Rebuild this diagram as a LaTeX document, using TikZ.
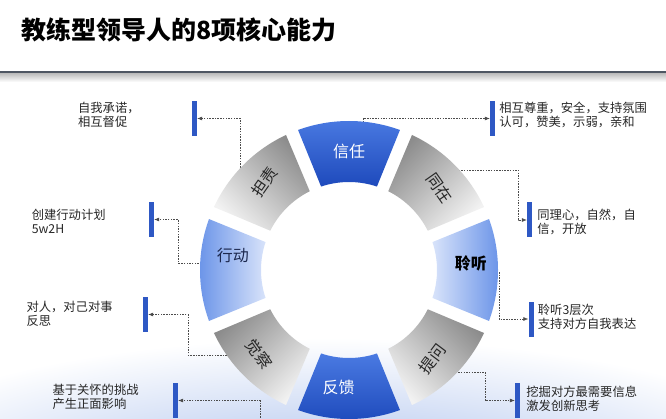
\documentclass[tikz,border=0pt]{standalone}
\usepackage{fontspec}
\setmainfont{Noto Sans CJK SC}
\usetikzlibrary{positioning}
\usetikzlibrary{arrows.meta}
\definecolor{ringblue}{RGB}{30,74,188}
\definecolor{ringbluetop}{RGB}{74,122,226}
\definecolor{ltblue}{RGB}{104,146,232}
\definecolor{paleblue}{RGB}{216,227,250}
\definecolor{barblue}{RGB}{46,88,196}
\definecolor{glowblue}{RGB}{158,183,234}
\definecolor{rulegray}{RGB}{78,86,98}
\definecolor{labelnavy}{RGB}{28,40,78}

\begin{document}
\begin{tikzpicture}[x=1pt,y=1pt,
  blueseg/.style={top color=ringbluetop,bottom color=ringblue},
  ltL/.style={top color=ltblue,bottom color=paleblue,shading angle=90},
  ltR/.style={top color=ltblue,bottom color=paleblue,shading angle=-90},
  grayA/.style={top color=black!45,bottom color=black!5,shading angle=-45},
  grayB/.style={top color=black!45,bottom color=black!5,shading angle=45},
  lbl/.style={font=\fontsize{16}{16}\selectfont,text=black!85},
  bar/.style={rectangle,fill=barblue,minimum width=5pt,minimum height=35pt,inner sep=0pt},
  note/.style={align=left,inner sep=0pt,font=\fontsize{12.3}{14}\selectfont,text=black!85},
  arr/.style={-{Latex[length=5pt,width=4pt]},dash pattern=on 1.5pt off 1.2pt,color=black!70,line width=0.6pt}
]
  \useasboundingbox (0,0) rectangle (666,418);
  \shade[inner color=glowblue,outer color=white] (333,-80) ellipse [x radius=520,y radius=160];
  \fill[top color=black!30,bottom color=white] (0,336) rectangle (666,346);
  \draw[rulegray,line width=2pt] (0,346) -- (666,346);
  \node[anchor=west,inner sep=0pt,font=\fontsize{25}{30}\selectfont\bfseries] (T) at (21,388)
    {教练型领导人的8项核心能力};

  \node[bar] (DZb) at (194.5,299.5) {};
  \node[bar] (XDb) at (151.5,198.5) {};
  \node[bar] (JCb) at (145.5,103.5) {};
  \node[bar] (FKb) at (175.5,17.5) {};
  \node[bar] (XRb) at (492.5,299.5) {};
  \node[bar] (TZb) at (529.5,198) {};
  \node[bar] (LTb) at (531,99) {};
  \node[bar] (TWb) at (517.5,17.5) {};

  \node[note,below left=1pt and 52pt of DZb.north west] (DZn) {自我承诺，\\相互督促};
  \node[note,below left=7pt and 43pt of XDb.north west] (XDn) {创建行动计划\\5w2H};
  \node[note,below left=4pt and 30pt of JCb.north west] (JCn) {对人，对己对事\\反思};
  \node[note,below left=1pt and 34pt of FKb.north west] (FKn) {基于关怀的挑战\\产生正面影响};
  \node[note,below right=1pt and 4pt of XRb.north east] (XRn) {相互尊重，安全，支持氛围\\认可，赞美，示弱，亲和};
  \node[note,below right=7pt and 5pt of TZb.north east] (TZn) {同理心，自然，自\\信，开放};
  \node[note,below right=3pt and 4pt of LTb.north east] (LTn) {聆听3层次\\支持对方自我表达};
  \node[note,below right=3pt and 6pt of TWb.north east] (TWn) {挖掘对方最需要信息\\激发创新思考};

  \coordinate (C) at (349,148);
  \coordinate (dz) at (240,245);
  \coordinate (xd) at (215,155);
  \coordinate (jc) at (235,63);
  \coordinate (fk) at (260,-5);
  \coordinate (xr) at (363,290);
  \coordinate (tz) at (445,248);
  \coordinate (lt) at (499,146);
  \coordinate (tw) at (450,46);
  \draw[arr] (dz) |- (DZb.east);
  \draw[arr] (xd) -- ++(-37,0) |- (XDb.east);
  \draw[arr] (jc) -- ++(-47,0) |- (JCb.east);
  \draw[arr] (fk) |- (FKb.east);
  \draw[arr] (xr) |- (XRb.west);
  \draw[arr] (tz) -- ++(73,0) |- (TZb.west);
  \draw[arr] (lt) |- (LTb.west);
  \draw[arr] (tw) -- ++(35,0) |- (TWb.west);

  \foreach \a/\s in {90/blueseg,-90/blueseg,0/ltR,180/ltL,135/grayA,45/grayB,-45/grayA,-135/grayB}
    \path[\s] ([shift={(\a-20:149)}]C) arc[start angle=\a-20,end angle=\a+20,radius=149]
      -- ([shift={(\a+18.5:88)}]C) arc[start angle=\a+18.5,end angle=\a-18.5,radius=88] -- cycle;

  \node[lbl,text=white] (XR) at ([shift={(90:119)}]C) {信任};
  \node[lbl,rotate=-55] (TZ) at ([shift={(42:122)}]C) {同在};
  \node[lbl,font=\fontsize{16}{16}\selectfont\bfseries,text=black] (LT) at ([shift={(3:122)}]C) {聆听};
  \node[lbl,rotate=53] (TW) at ([shift={(-47:122)}]C) {提问};
  \node[lbl,text=white] (FK) at ([shift={(-95:118)}]C) {反馈};
  \node[lbl,rotate=-55] (JC) at ([shift={(-137:123)}]C) {觉察};
  \node[lbl,text=labelnavy] (XD) at ([shift={(173:117)}]C) {行动};
  \node[lbl,rotate=55] (DZ) at ([shift={(134:122)}]C) {担责};
\end{tikzpicture}
\end{document}
